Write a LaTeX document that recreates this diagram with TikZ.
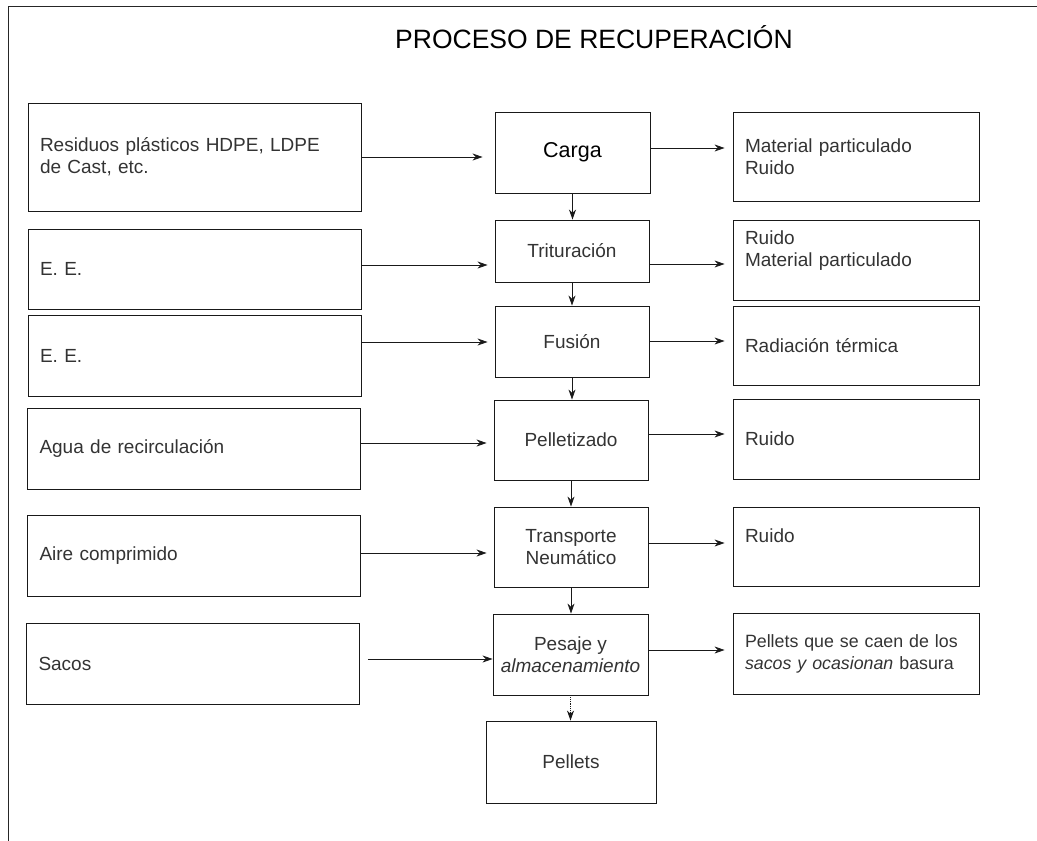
\documentclass[tikz,border=0pt]{standalone}
\usepackage{fontspec}
\setmainfont{Liberation Sans}
\usetikzlibrary{arrows.meta,calc}
\newcommand\bodyfnt{\fontsize{19}{22}\selectfont}
\tikzset{
  box/.style={draw=black!90, line width=0.9pt, inner ysep=0pt, font=\bodyfnt, text=black!80},
  lbox/.style={box, inner xsep=12pt, text width=309pt, align=left, minimum height=#1},
  rbox/.style={box, inner xsep=12pt, text width=222pt, align=left, minimum height=#1},
  cbox/.style={box, inner xsep=0pt, align=center, minimum height=#1},
  arr/.style={draw=black!90, line width=0.8pt, -{Stealth[length=10pt,width=7pt]}},
}
\begin{document}
\begin{tikzpicture}[x=1pt,y=-1pt]
\useasboundingbox (0,0) rectangle (1037,841);
% open frame
\draw[line width=1pt, black!85] (1037,6) -- (8,6) -- (8,841);
\node[font=\fontsize{26.5}{30}\selectfont, text=black] (title) at (594,37) {PROCESO DE RECUPERACIÓN};

% left inputs
\node[lbox=108pt] (L1) at (194.5,157) {Residuos plásticos HDPE, LDPE\\de Cast, etc.};
\node[lbox=80pt] (L2) at (194.5,269) {E. E.};
\node[lbox=81pt] (L3) at (194.5,355.5) {E. E.};
\node[lbox=81pt] (L4) at (194,448.5) {Agua de recirculación};
\node[lbox=81pt] (L5) at (194,555.5) {Aire comprimido};
\node[lbox=81pt] (L6) at (193,663.5) {Sacos};

% center process
\node[cbox=81pt, minimum width=155pt, font=\fontsize{21.5}{24}\selectfont, text=black] (C1) at (572.5,152.5) {Carga};
\node[cbox=62pt, minimum width=154pt] (C2) at (572,251) {Trituración};
\node[cbox=71pt, minimum width=154pt] (C3) at (572,341.5) {Fusión};
\node[cbox=80pt, minimum width=154pt] (C4) at (571,440) {Pelletizado};
\node[cbox=80pt, minimum width=154pt] (C5) at (571,547) {Transporte\\Neumático};
\node[cbox=81pt, minimum width=155pt] (C6) at (570.5,654.5) {Pesaje y\\\textit{almacenamiento}};
\node[cbox=82pt, minimum width=170pt] (C7) at (571,762) {Pellets};

% right outputs
\node[rbox=89pt] (R1) at (856,156.5) {Material particulado\\Ruido};
\node[rbox=80pt] (R2) at (856,260) {Ruido\\Material particulado\\\mbox{}};
\node[rbox=79pt] (R3) at (856,345.5) {Radiación térmica};
\node[rbox=80pt] (R4) at (856,439) {Ruido};
\node[rbox=79pt] (R5) at (856,546.5) {Ruido\\\mbox{}};
\node[rbox=81pt, font=\fontsize{17.8}{22}\selectfont] (R6) at (856,653.5) {Pellets que se caen de los\\\textit{sacos y ocasionan} basura};

% inputs -> process
\draw[arr, shorten >=12pt] (L1.east |- 0,157) -- (C1.west |- 0,157);
\draw[arr, shorten >=7pt] (L2.east |- 0,265) -- (C2.west |- 0,265);
\draw[arr, shorten >=7pt] (L3.east |- 0,342) -- (C3.west |- 0,342);
\draw[arr, shorten >=7pt] (L4.east |- 0,443) -- (C4.west |- 0,443);
\draw[arr, shorten >=7pt] (L5.east |- 0,553) -- (C5.west |- 0,553);
\draw[arr, shorten <=8pt] (L6.east |- 0,659) -- (C6.west |- 0,659);

% process -> outputs
\draw[arr, shorten >=8pt] (C1.east |- 0,148) -- (R1.west |- 0,148);
\draw[arr, shorten >=8pt] (C2.east |- 0,264) -- (R2.west |- 0,264);
\draw[arr, shorten >=8pt] (C3.east |- 0,341) -- (R3.west |- 0,341);
\draw[arr, shorten >=8pt] (C4.east |- 0,434) -- (R4.west |- 0,434);
\draw[arr, shorten >=8pt] (C5.east |- 0,543) -- (R5.west |- 0,543);
\draw[arr, shorten >=8pt] (C6.east |- 0,650) -- (R6.west |- 0,650);

% process chain
\draw[arr] (C1.south) -- (C1.south |- C2.north);
\draw[arr] (C2.south) -- (C2.south |- C3.north);
\draw[arr] (C3.south) -- (C3.south |- C4.north);
\draw[arr] (C4.south) -- (C4.south |- C5.north);
\draw[arr] (C5.south) -- (C5.south |- C6.north);
\draw[arr, densely dotted] (C6.south) -- (C6.south |- C7.north);
\end{tikzpicture}
\end{document}
